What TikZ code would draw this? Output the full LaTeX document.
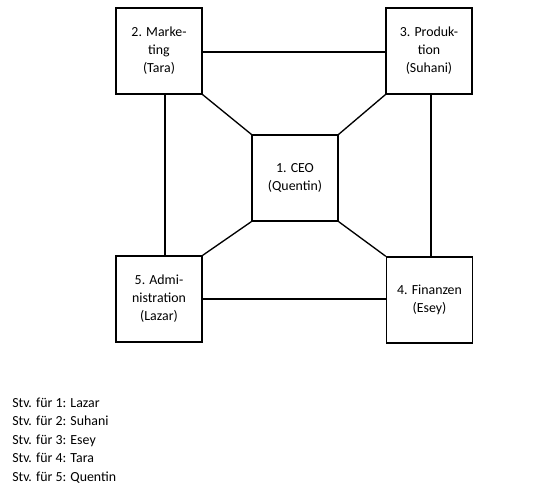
\documentclass[tikz,border=0pt]{standalone}
\usepackage{fontspec}
\setmainfont{Carlito}
\begin{document}
\begin{tikzpicture}[x=0.75pt,y=-0.75pt,
  box/.style={draw,line width=1pt,minimum width=64.5pt,minimum height=64.5pt,inner sep=0pt,
    align=center,font=\fontsize{10.4}{13.5}\selectfont},
  conn/.style={line width=1pt},
  legend/.style={anchor=base west,inner sep=0pt,font=\fontsize{10.4}{13.5}\selectfont}]
\useasboundingbox (0,0) rectangle (560,492);
\node[box] (n2) at (159,51) {2. Marke-\\ting\\(Tara)};
\node[box] (n3) at (429,51) {3. Produk-\\tion\\(Suhani)};
\node[box] (n1) at (295,178) {1. CEO\\(Quentin)};
\node[box] (n5) at (159,299) {5. Admi-\\nistration\\(Lazar)};
\node[box] (n4) at (429.5,300) {4. Finanzen\\(Esey)};
\draw[conn] ([yshift=-0.75pt]n2.east) -- ([yshift=-0.75pt]n3.west);
\draw[conn] (n5.east) -- (n4.west |- n5.east);
\draw[conn] ([xshift=4.5pt]n2.south) -- ([xshift=4.5pt]n5.north);
\draw[conn] ([xshift=1.5pt]n3.south) -- ([xshift=1.5pt]n3.south |- n4.north);
\draw[conn] (n2.south east) -- (n1.north west);
\draw[conn] (n3.south west) -- (n1.north east);
\draw[conn] (n1.south west) -- (n5.north east);
\draw[conn] (n1.south east) -- (n4.north west);
\node[legend] (l1) at (12,407) {Stv. für 1: Lazar};
\node[legend] (l2) at (12,425.5) {Stv. für 2: Suhani};
\node[legend] (l3) at (12,444) {Stv. für 3: Esey};
\node[legend] (l4) at (12,462.5) {Stv. für 4: Tara};
\node[legend] (l5) at (12,481) {Stv. für 5: Quentin};
\end{tikzpicture}
\end{document}
